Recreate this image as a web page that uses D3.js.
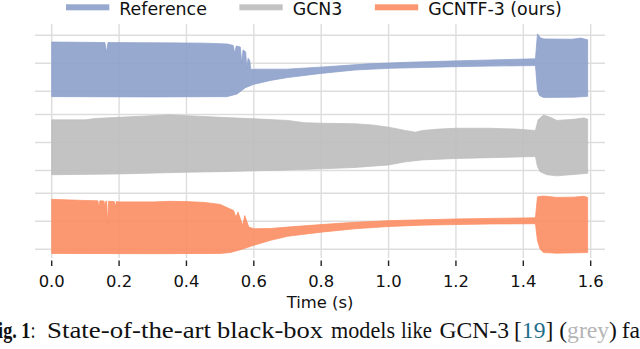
<!DOCTYPE html>
<html>
<head>
<meta charset="utf-8">
<script src="https://cdn.jsdelivr.net/npm/d3@7"></script>
<style>
  body { margin: 0; background: #fff; }
  svg { display: block; }
</style>
</head>
<body>
<svg id="chart" width="640" height="349"></svg>
<script>
// ---- data: [time (s), amplitude] envelope points
const seriesNames = ["Reference", "GCN3", "GCNTF-3 (ours)"];
const seriesColors = ["#8da0cb", "#bcbcbc", "#fc8d62"];
const xTicks = [0.0, 0.2, 0.4, 0.6, 0.8, 1.0, 1.2, 1.4, 1.6];
const yGrid = [-1, 0, 1];

const refTop = [[0, 0.76], [0.09, 0.75], [0.158, 0.74], [0.1625, 0.39], [0.167, 0.74], [0.333, 0.73], [0.455, 0.72],
  [0.521, 0.69], [0.539, 0.64], [0.543, 0.36], [0.548, 0.62], [0.560, 0.58], [0.564, 0.0], [0.568, 0.48],
  [0.576, 0.40], [0.579, -0.18], [0.583, 0.18], [0.588, 0.10], [0.591, -0.22], [0.60, -0.21], [0.697, -0.21],
  [0.818, -0.12], [0.939, -0.02], [1.061, 0.04], [1.182, 0.08], [1.303, 0.12], [1.436, 0.16], [1.442, 1.05],
  [1.451, 0.91], [1.461, 0.87], [1.545, 0.86], [1.570, 0.90], [1.591, 0.84]];
const refBottom = [[0, -1.19], [0.3, -1.2], [0.52, -1.19], [0.55, -1.1], [0.575, -0.87], [0.6, -0.75], [0.65, -0.61],
  [0.7, -0.51], [0.8, -0.36], [0.9, -0.24], [1.0, -0.18], [1.1, -0.15], [1.2, -0.12], [1.3, -0.10], [1.436, -0.08],
  [1.442, -0.97], [1.448, -1.15], [1.46, -1.22], [1.55, -1.21], [1.591, -1.18]];

const gcnTop = [[0, 0.81], [0.1, 0.81], [0.13, 0.86], [0.2, 0.9], [0.3, 0.96], [0.35, 0.99], [0.4, 0.96], [0.5, 0.9],
  [0.6, 0.85], [0.7, 0.79], [0.75, 0.71], [0.8, 0.69], [0.9, 0.67], [0.95, 0.63], [1.0, 0.55], [1.05, 0.43],
  [1.08, 0.37], [1.1, 0.43], [1.15, 0.48], [1.2, 0.51], [1.3, 0.51], [1.38, 0.48], [1.436, 0.43], [1.444, 0.81],
  [1.46, 0.98], [1.48, 0.9], [1.5, 0.79], [1.55, 0.83], [1.58, 0.88], [1.591, 0.83]];
const gcnBottom = [[0, -1.15], [0.2, -1.12], [0.4, -1.06], [0.5, -1.04], [0.6, -1.01], [0.7, -0.98], [0.8, -0.94],
  [0.9, -0.89], [1.0, -0.8], [1.05, -0.69], [1.1, -0.62], [1.2, -0.57], [1.3, -0.54], [1.436, -0.5], [1.442, -0.86],
  [1.45, -1.04], [1.47, -1.15], [1.5, -1.19], [1.55, -1.14], [1.591, -1.1]];

const oursTop = [[0, 0.78], [0.1, 0.74], [0.137, 0.73], [0.14, 0.49], [0.143, 0.73], [0.155, 0.72], [0.158, 0.55],
  [0.161, 0.72], [0.163, 0.72], [0.166, -0.09], [0.169, 0.71], [0.186, 0.70], [0.189, 0.5], [0.192, 0.70],
  [0.2, 0.69], [0.3, 0.69], [0.35, 0.71], [0.4, 0.70], [0.455, 0.67], [0.5, 0.6], [0.52, 0.49], [0.54, 0.38],
  [0.547, 0.14], [0.553, 0.33], [0.567, -0.15], [0.573, 0.2], [0.585, -0.21], [0.6, -0.27], [0.65, -0.26],
  [0.7, -0.21], [0.8, -0.12], [0.9, -0.04], [1.0, 0.02], [1.1, 0.05], [1.2, 0.08], [1.3, 0.1], [1.436, 0.12],
  [1.442, 0.87], [1.46, 0.9], [1.5, 0.85], [1.55, 0.86], [1.58, 0.89], [1.591, 0.85]];
const oursBottom = [[0, -1.15], [0.3, -1.16], [0.5, -1.15], [0.53, -1.12], [0.56, -1.02], [0.6, -0.86], [0.65, -0.68],
  [0.7, -0.54], [0.8, -0.39], [0.9, -0.27], [1.0, -0.19], [1.1, -0.14], [1.2, -0.12], [1.3, -0.1], [1.436, -0.09],
  [1.442, -0.7], [1.45, -1.0], [1.46, -1.12], [1.5, -1.14], [1.591, -1.12]];

const envelopes = [[refTop, refBottom], [gcnTop, gcnBottom], [oursTop, oursBottom]];

// ---- layout
var svg = d3.select("#chart");
var W = 640, H = 349;
var plot = { left: 35, right: 605, top: 24, bottom: 258 };
var panelOffset = [0, -2.83, -5.64]; // each signal is shifted down in one shared axis
var tickFont = "'DejaVu Sans', sans-serif";

var x = d3.scaleLinear().domain([-0.0496, 1.6425]).range([plot.left, plot.right]);
var y = d3.scaleLinear().domain([1.404, -6.954]).range([plot.top, plot.bottom]);

svg.append("rect").attr("width", W).attr("height", H).attr("fill", "#fff");

// grid
var grid = svg.append("g").attr("stroke", "#dddddd").attr("stroke-width", 1.4);
grid.selectAll(".vgrid").data(xTicks).join("line").attr("class", "vgrid")
  .attr("x1", d => x(d)).attr("x2", d => x(d)).attr("y1", plot.top).attr("y2", plot.bottom);
var hgridVals = [];
panelOffset.forEach(o => yGrid.forEach(g => hgridVals.push(o + g)));
grid.selectAll(".hgrid").data(hgridVals).join("line").attr("class", "hgrid")
  .attr("x1", plot.left).attr("x2", plot.right).attr("y1", d => y(d)).attr("y2", d => y(d));

// waveform envelopes
var line = d3.line().x(d => x(d[0])).y(d => y(d[1]));
svg.append("g").selectAll("path").data(envelopes).join("path")
  .attr("d", (env, i) => {
    var pts = env[0].map(p => [p[0], p[1] + panelOffset[i]])
      .concat(env[1].slice().reverse().map(p => [p[0], p[1] + panelOffset[i]]));
    return line(pts) + "Z";
  })
  .attr("fill", (d, i) => seriesColors[i]).attr("fill-opacity", 0.9)
  .attr("stroke", (d, i) => seriesColors[i]).attr("stroke-opacity", 0.9).attr("stroke-width", 0.8);

// x ticks + labels
var ticks = svg.append("g");
ticks.selectAll("line").data(xTicks).join("line")
  .attr("x1", d => x(d)).attr("x2", d => x(d)).attr("y1", 260.5).attr("y2", 266)
  .attr("stroke", "#222").attr("stroke-width", 1.4);
ticks.selectAll("text").data(xTicks).join("text")
  .attr("x", d => x(d)).attr("y", 286.7).attr("text-anchor", "middle")
  .attr("font-family", tickFont).attr("font-size", 16.4).attr("fill", "#111")
  .text(d => d3.format(".1f")(d));
svg.append("text").attr("x", (plot.left + plot.right) / 2).attr("y", 307.5).attr("text-anchor", "middle")
  .attr("font-family", tickFont).attr("font-size", 16.4).attr("fill", "#111").text("Time (s)");

// legend
var lx = 66;
seriesNames.forEach((name, i) => {
  svg.append("rect").attr("x", lx).attr("y", 4.3).attr("width", 43.3).attr("height", 6)
    .attr("fill", seriesColors[i]).attr("fill-opacity", 0.9);
  var t = svg.append("text").attr("x", lx + 53.3).attr("y", 15)
    .attr("font-family", tickFont).attr("font-size", 17.4).attr("fill", "#111").text(name);
  lx = lx + 53.3 + t.node().getComputedTextLength() + 32.5;
});

// caption (justified text in the source, words placed to the measured spans)
var capY = 338.3;
var cap = svg.append("g").attr("font-family", "'Liberation Serif', 'Times New Roman', serif")
  .attr("font-size", 23.6).attr("fill", "#111");
var fig = cap.append("text").attr("transform", "translate(-13," + capY + ") scale(0.77,1)");
fig.append("tspan").attr("font-weight", "bold").text("Fig. 1");
fig.append("tspan").text(":");
var capWords = [["State-of-the-art", 47, 164], ["black-box", 217, 106], ["models", 331, 64], ["like", 401, 31]];
capWords.forEach(w => cap.append("text").attr("x", w[1]).attr("y", capY)
  .attr("textLength", w[2]).attr("lengthAdjust", "spacingAndGlyphs").text(w[0]));
cap.append("text").attr("x", 439.5).attr("y", capY).text("GCN-3");
var tail = cap.append("text").attr("x", 514).attr("y", capY);
tail.append("tspan").text("[");
tail.append("tspan").attr("fill", "#1f6f8b").text("19");
tail.append("tspan").text("] (");
tail.append("tspan").attr("fill", "#b5b5b5").text("grey");
tail.append("tspan").text(")");
cap.append("text").attr("x", 621.7).attr("y", capY).text("fails");
</script>
</body>
</html>
